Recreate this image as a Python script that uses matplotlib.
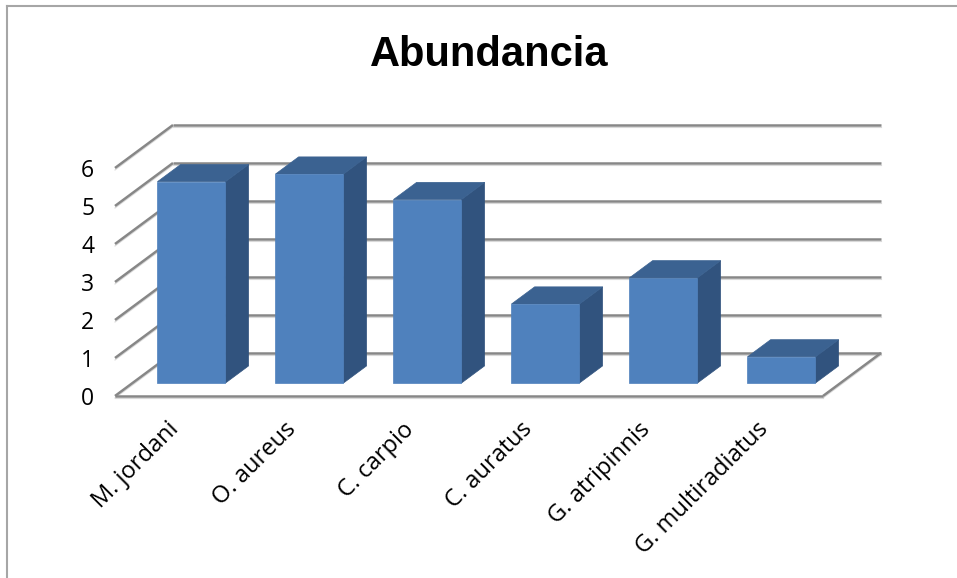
import matplotlib
matplotlib.use("Agg")
import matplotlib.pyplot as plt
from matplotlib.patches import Polygon
from matplotlib.lines import Line2D
import matplotlib.transforms as mtransforms

# ---- data ----
categories = ["M. jordani", "O. aureus", "C. carpio", "C. auratus", "G. atripinnis", "G. multiradiatus"]
values = [5.3, 5.5, 4.83, 2.08, 2.77, 0.69]
yticks = [0, 1, 2, 3, 4, 5, 6]
title = "Abundancia"

# ---- geometry / style ----
W, H = 957, 578
front_left, front_right = 115, 823
front_bottom, front_top = 396, 168
DX = 58 / 118.0      # depth offset in category units
DY = 43 / 38.0       # depth offset in value units
bar_w = 0.576
f0, f1 = 0.30, 0.70  # bar depth range

c_front = "#4F81BD"
c_side = "#31537E"
c_top = "#3B6291"
c_grid = "#878787"

fig = plt.figure(figsize=(W / 100, H / 100), dpi=100)
ax = fig.add_axes([front_left / W, 1 - front_bottom / H,
                   (front_right - front_left) / W, (front_bottom - front_top) / H])
ax.set_xlim(0, len(categories))
ax.set_ylim(0, 6)
for s in ax.spines.values():
    s.set_visible(False)
ax.set_xticks([])
ax.set_yticks(yticks)
ax.set_yticklabels([str(t) for t in yticks], fontsize=16.5, family=["Open Sans", "DejaVu Sans"])
ax.tick_params(axis="y", length=0, pad=15)
ax.patch.set_visible(False)


def P(x, v, d):
    return (x + d * DX, v + d * DY)


n = len(categories)
shadow = mtransforms.offset_copy(ax.transData, fig=fig, x=0, y=-2, units="dots")


def gline(p, q, z=1):
    ax.add_line(Line2D([p[0], q[0]], [p[1], q[1]], color="#D9D9D9", lw=0.8,
                       transform=shadow, clip_on=False, zorder=z))
    ax.add_line(Line2D([p[0], q[0]], [p[1], q[1]], color=c_grid, lw=1.8,
                       clip_on=False, zorder=z + 0.1, solid_capstyle="butt"))


# back wall gridlines and side wall diagonals
for v in yticks:
    gline(P(0, v, 1), P(n, v, 1))
    if v > 0:
        gline(P(0, v, 0), P(0, v, 1))
# floor
gline(P(0, 0, 0), P(0, 0, 1))
gline(P(0, 0, 0), P(n, 0, 0))
gline(P(n, 0, 0), P(n, 0, 1))

# bars
for i, v in enumerate(values):
    x0 = i + (1 - bar_w) / 2
    x1 = x0 + bar_w
    front = [P(x0, 0, f0), P(x1, 0, f0), P(x1, v, f0), P(x0, v, f0)]
    side = [P(x1, 0, f0), P(x1, 0, f1), P(x1, v, f1), P(x1, v, f0)]
    top = [P(x0, v, f0), P(x1, v, f0), P(x1, v, f1), P(x0, v, f1)]
    for poly, col in ((side, c_side), (top, c_top), (front, c_front)):
        ax.add_patch(Polygon(poly, closed=True, facecolor=col, edgecolor=col,
                             lw=0.5, clip_on=False, zorder=5))

# category labels
for i, lab in enumerate(categories):
    tr = mtransforms.offset_copy(ax.transData, fig=fig, x=1, y=-30, units="dots")
    ax.text(i + 0.5, 0, lab, transform=tr, rotation=45, rotation_mode="anchor",
            ha="right", va="center", fontsize=17, family=["Open Sans", "DejaVu Sans"],
            color="black")

# title
fig.text(489 / W, 1 - 55 / H, title, ha="center", va="center", fontsize=30,
         fontweight="bold", family=["Liberation Sans Narrow", "Liberation Sans", "DejaVu Sans"])

# chart border (top and left visible)
fig.add_artist(Line2D([7 / W, 1], [1 - 6 / H, 1 - 6 / H], transform=fig.transFigure,
                      color="#A6A6A6", lw=1.5))
fig.add_artist(Line2D([7 / W, 7 / W], [0, 1 - 6 / H], transform=fig.transFigure,
                      color="#A6A6A6", lw=1.5))

fig.savefig("out.png", dpi=100, facecolor="white")
